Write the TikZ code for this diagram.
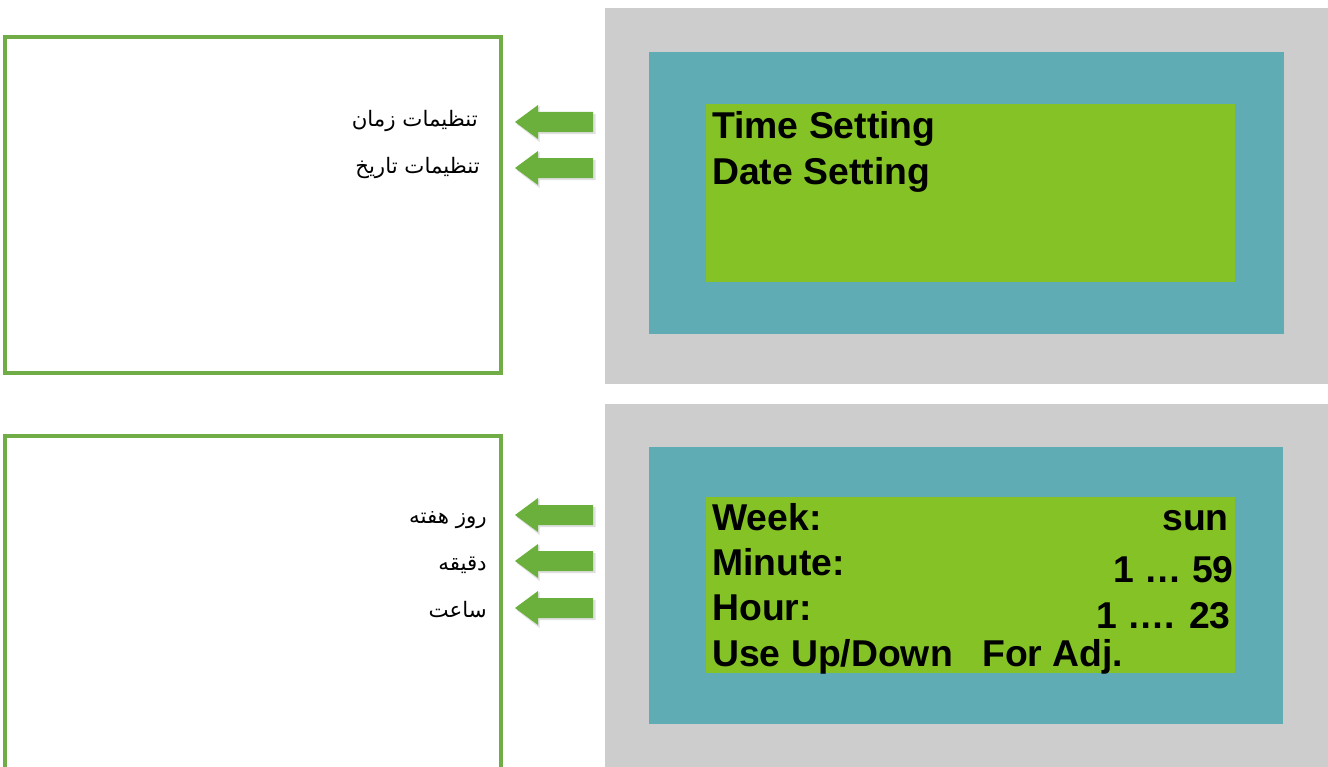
\documentclass[tikz,border=0pt]{standalone}
\usepackage{fontspec}
\setmainfont{Liberation Sans}
\newfontfamily\farsifont[Script=Arabic]{DejaVu Sans}
\TeXXeTstate=1
\usetikzlibrary{calc,positioning}
\definecolor{Panel}{HTML}{CDCDCD}
\definecolor{Bezel}{HTML}{5FACB5}
\definecolor{Screen}{HTML}{84C225}
\definecolor{Frame}{HTML}{70AD47}
\definecolor{Pointer}{HTML}{6BAF3D}
\tikzset{
  lcdtext/.style={font=\fontsize{28}{31}\selectfont\bfseries,inner sep=0pt,anchor=base west},
  lcdvalue/.style={lcdtext,anchor=base east},
  fatext/.style={font=\farsifont\fontsize{16}{19}\selectfont,inner sep=0pt,anchor=base east},
  frame/.style={draw=Frame,line width=2.5pt}
}
% left pointing arrow, tip at the given point
\newcommand\leftpointer[1]{%
  \fill[black,opacity=.12] ($(#1)+(1.5,2)$) -- ++(23,-18) -- ++(0,8) -- ++(56,0)
    -- ++(0,20) -- ++(-56,0) -- ++(0,8) -- cycle;
  \fill[Pointer] (#1) -- ++(23,-17) -- ++(0,7) -- ++(55,0) -- ++(0,20)
    -- ++(-55,0) -- ++(0,7) -- cycle;}

\begin{document}
\begin{tikzpicture}[x=0.75pt,y=-0.75pt]
    \useasboundingbox (0,0) rectangle (1328,767);

    % upper screen
    \fill[Panel] (605,8) rectangle (1330,384);
    \fill[Bezel] (649,52) rectangle (1284,334);
    \fill[Screen] (706,104) rectangle (1235,282);
    \node[lcdtext] (time) at (712,138) {Time Setting};
    \node[lcdtext] (date) at (712,184) {Date Setting};

    % lower screen
    \fill[Panel] (605,404) rectangle (1330,770);
    \fill[Bezel] (649,447) rectangle (1283,724);
    \fill[Screen] (706,497) rectangle (1235,673);
    \node[lcdtext] (week) at (712,530) {Week:};
    \node[lcdvalue] (weekval) at (1229,530) {sun};
    \node[lcdtext] (minute) at (712,575) {Minute:};
    \node[lcdvalue] (minuteval) at (1234,582) {1 … 59};
    \node[lcdtext] (hour) at (712,620) {Hour:};
    \node[lcdvalue] (hourval) at (1231,628) {1 …. 23};
    \node[lcdtext] (adjust) at (712,666) {Use Up/Down\hspace{22pt}For Adj.};

    % notes
    \draw[frame] (5,37) rectangle (501,373);
    \draw[frame] (5,436) rectangle (501,790);
    \node[fatext] (fatime) at (478,127) {\beginR تنظیمات زمان\endR};
    \node[fatext] (fadate) at (480,173) {\beginR تنظیمات تاریخ\endR};
    \node[fatext] (faweek) at (487,523) {\beginR روز هفته\endR};
    \node[fatext] (faminute) at (487,570) {\beginR دقیقه\endR};
    \node[fatext] (fahour) at (487,617) {\beginR ساعت\endR};

    % arrows
    \coordinate (ptime) at (515,122);
    \coordinate (pdate) at (515,168);
    \coordinate (pweek) at (515,515);
    \coordinate (pminute) at (515,561);
    \coordinate (phour) at (515,608);
    \foreach \p in {ptime,pdate,pweek,pminute,phour}
      {\leftpointer{\p}}
  \end{tikzpicture}
\end{document}
